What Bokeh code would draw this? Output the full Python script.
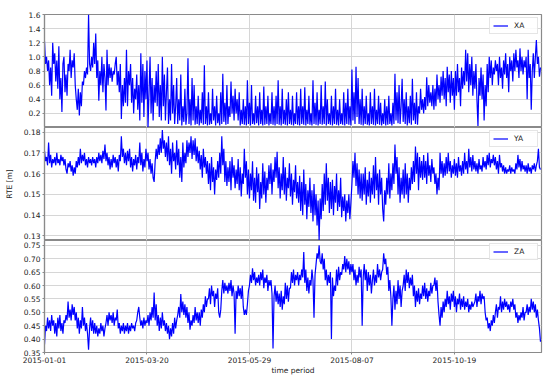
import numpy as np
from bokeh.plotting import figure
from bokeh.layouts import column
from bokeh.models import FixedTicker, PrintfTickFormatter, Range1d
from bokeh.embed import file_html
from bokeh.resources import INLINE

# ---- data (sample index: 100 samples per date tick)
DATE_LABELS = ["2015-01-01", "2015-03-20", "2015-05-29", "2015-08-07", "2015-10-19"]
DATE_TICKS = [0, 100, 200, 300, 400]
X_END = 485

XA = [1.22, 0.9, 1.0, 0.8, 0.95, 0.6, 0.85, 0.45, 1.2, 0.9,
      1.05, 0.65, 0.95, 0.55, 1.15, 0.4, 0.7, 0.22, 0.9, 1.0,
      0.5, 0.75, 0.45, 0.9, 0.8, 1.1, 0.7, 0.95, 0.85, 1.05,
      0.6, 0.4, 0.25, 0.55, 0.17, 0.5, 0.3, 0.65, 0.6, 0.8,
      0.7, 0.85, 0.75, 1.6, 0.9, 0.8, 1.0, 0.85, 1.2, 0.9,
      1.33, 0.7, 0.95, 0.38, 0.8, 0.6, 1.0, 0.5, 0.9, 0.7,
      0.24, 1.1, 0.6, 0.9, 0.7, 0.85, 0.65, 0.8, 0.75, 0.9,
      1.0, 0.6, 0.8, 0.5, 0.9, 0.12, 0.6, 0.3, 0.7, 0.35,
      1.1, 0.3, 0.8, 0.6, 0.9, 0.35, 0.7, 0.2, 0.55, 0.4,
      0.75, 0.25, 0.6, 0.1, 1.05, 0.35, 0.9, 0.15, 0.8, 0.4,
      0.95, 0.0, 0.5, 1.0, 0.2, 0.7, 0.1, 0.6, 0.35, 0.8,
      0.3, 0.9, 0.15, 0.6, 0.1, 1.0, 0.3, 0.75, 0.1, 0.5,
      0.85, 0.05, 0.4, 0.1, 0.9, 0.2, 0.6, 0.05, 0.3, 0.7,
      0.05, 0.4, 0.1, 0.75, 0.03, 0.3, 0.08, 0.55, 0.04, 0.2,
      0.98, 0.05, 0.4, 0.03, 0.7, 0.1, 0.6, 0.04, 0.3, 0.05,
      0.45, 0.03, 0.25, 0.06, 0.5, 0.04, 0.88, 0.05, 0.3, 0.03,
      0.5, 0.04, 0.2, 0.05, 0.55, 0.1, 0.3, 0.03, 0.45, 0.06,
      0.2, 0.03, 0.5, 0.05, 0.76, 0.08, 0.35, 0.04, 0.6, 0.05,
      0.3, 0.15, 0.65, 0.2, 0.45, 0.1, 0.55, 0.2, 0.4, 0.1,
      0.5, 0.03, 0.25, 0.05, 0.4, 0.04, 0.3, 0.03, 0.67, 0.05,
      0.35, 0.03, 0.6, 0.05, 0.2, 0.04, 0.45, 0.06, 0.3, 0.03,
      0.5, 0.05, 0.25, 0.03, 0.58, 0.04, 0.3, 0.05, 0.45, 0.03,
      0.2, 0.05, 0.5, 0.04, 0.3, 0.03, 0.45, 0.05, 0.67, 0.04,
      0.3, 0.03, 0.55, 0.05, 0.25, 0.04, 0.4, 0.03, 0.5, 0.05,
      0.25, 0.04, 0.45, 0.03, 0.2, 0.05, 0.5, 0.04, 0.3, 0.03,
      0.55, 0.05, 0.3, 0.04, 0.57, 0.03, 0.25, 0.05, 0.45, 0.04,
      0.2, 0.03, 0.67, 0.05, 0.35, 0.04, 0.5, 0.03, 0.25, 0.05,
      0.6, 0.04, 0.3, 0.05, 0.65, 0.03, 0.4, 0.05, 0.2, 0.04,
      0.45, 0.03, 0.3, 0.05, 0.55, 0.04, 0.25, 0.03, 0.4, 0.05,
      0.2, 0.04, 0.5, 0.03, 0.35, 0.05, 0.55, 0.04, 0.3, 0.03,
      0.82, 0.1, 0.5, 0.05, 0.86, 0.15, 0.7, 0.05, 0.4, 0.04,
      0.55, 0.03, 0.3, 0.05, 0.45, 0.04, 0.2, 0.03, 0.5, 0.05,
      0.3, 0.04, 0.55, 0.03, 0.25, 0.05, 0.45, 0.04, 0.35, 0.03,
      0.2, 0.05, 0.4, 0.03, 0.3, 0.04, 0.45, 0.05, 0.2, 0.03,
      0.35, 0.05, 0.76, 0.1, 0.5, 0.06, 0.6, 0.05, 0.3, 0.69,
      0.08, 0.4, 0.05, 0.5, 0.03, 0.3, 0.06, 0.45, 0.04, 0.69,
      0.1, 0.35, 0.05, 0.5, 0.04, 0.3, 0.2, 0.55, 0.25, 0.4,
      0.2, 0.43, 0.25, 0.71, 0.3, 0.6, 0.35, 0.5, 0.3, 0.6,
      0.25, 0.55, 0.3, 0.75, 0.4, 0.6, 0.35, 0.72, 0.45, 0.8,
      0.4, 0.7, 0.3, 0.86, 0.5, 0.75, 0.35, 0.8, 0.45, 0.7,
      0.25, 0.8, 0.45, 0.9, 0.5, 0.7, 0.3, 0.85, 0.55, 0.8,
      0.6, 1.1, 0.65, 1.05, 0.5, 0.9, 0.6, 1.0, 0.45, 0.8,
      0.55, 0.9, 0.4, 0.02, 0.7, 0.45, 0.85, 0.4, 0.75, 0.1,
      0.6, 0.3, 0.9, 0.5, 1.0, 0.7, 0.95, 0.6, 0.85, 0.75,
      0.95, 0.8, 0.9, 0.6, 1.0, 0.7, 0.85, 0.55, 0.95, 0.75,
      1.05, 0.7, 0.9, 0.5, 1.0, 0.8, 0.95, 0.65, 1.05, 0.8,
      1.1, 0.85, 0.95, 0.7, 1.12, 0.8, 1.0, 0.75, 0.95, 0.85,
      1.0, 0.4, 1.1, 0.7, 0.9, 0.25, 0.8, 1.05, 0.7, 1.0,
      1.24, 0.9, 1.0, 0.72, 0.85]

YA = [0.171, 0.166, 0.168, 0.164, 0.175, 0.165, 0.169, 0.163, 0.167, 0.165,
      0.168, 0.164, 0.170, 0.165, 0.167, 0.164, 0.169, 0.166, 0.168, 0.164,
      0.167, 0.162, 0.160, 0.165, 0.163, 0.166, 0.161, 0.164, 0.159, 0.163,
      0.160, 0.166, 0.163, 0.168, 0.164, 0.172, 0.165, 0.169, 0.166, 0.170,
      0.164, 0.167, 0.163, 0.168, 0.165, 0.167, 0.164, 0.168, 0.165, 0.167,
      0.163, 0.168, 0.165, 0.170, 0.166, 0.169, 0.165, 0.171, 0.167, 0.174,
      0.166, 0.170, 0.164, 0.168, 0.162, 0.167, 0.163, 0.169, 0.165, 0.168,
      0.163, 0.167, 0.161, 0.169, 0.166, 0.178, 0.168, 0.172, 0.165, 0.170,
      0.164, 0.171, 0.166, 0.172, 0.163, 0.168, 0.161, 0.167, 0.164, 0.169,
      0.162, 0.168, 0.165, 0.175, 0.164, 0.170, 0.161, 0.167, 0.163, 0.172,
      0.166, 0.170, 0.162, 0.167, 0.160, 0.165, 0.158, 0.156, 0.166, 0.172,
      0.167, 0.174, 0.169, 0.177, 0.170, 0.181, 0.172, 0.176, 0.168, 0.175,
      0.166, 0.178, 0.164, 0.172, 0.160, 0.175, 0.166, 0.170, 0.162, 0.176,
      0.164, 0.172, 0.158, 0.168, 0.156, 0.175, 0.163, 0.170, 0.165, 0.176,
      0.168, 0.175, 0.170, 0.178, 0.167, 0.176, 0.169, 0.177, 0.166, 0.173,
      0.165, 0.171, 0.162, 0.169, 0.158, 0.172, 0.163, 0.168, 0.160, 0.166,
      0.155, 0.165, 0.152, 0.168, 0.156, 0.163, 0.150, 0.162, 0.157, 0.166,
      0.158, 0.170, 0.160, 0.178, 0.164, 0.172, 0.156, 0.166, 0.154, 0.163,
      0.156, 0.166, 0.152, 0.168, 0.158, 0.164, 0.153, 0.162, 0.155, 0.167,
      0.152, 0.163, 0.149, 0.160, 0.155, 0.172, 0.158, 0.166, 0.150, 0.162,
      0.148, 0.160, 0.152, 0.166, 0.147, 0.158, 0.146, 0.163, 0.151, 0.160,
      0.143, 0.156, 0.148, 0.165, 0.150, 0.161, 0.146, 0.158, 0.152, 0.164,
      0.155, 0.165, 0.150, 0.162, 0.156, 0.168, 0.158, 0.1705, 0.153, 0.163,
      0.148, 0.160, 0.152, 0.168, 0.150, 0.163, 0.147, 0.158, 0.153, 0.165,
      0.149, 0.160, 0.145, 0.157, 0.151, 0.164, 0.148, 0.156, 0.146, 0.159,
      0.142, 0.156, 0.140, 0.162, 0.145, 0.155, 0.138, 0.152, 0.144, 0.158,
      0.141, 0.152, 0.137, 0.155, 0.140, 0.150, 0.135, 0.147, 0.128, 0.148,
      0.138, 0.155, 0.142, 0.160, 0.145, 0.165, 0.147, 0.158, 0.141, 0.156,
      0.143, 0.157, 0.140, 0.154, 0.146, 0.160, 0.142, 0.152, 0.144, 0.158,
      0.139, 0.149, 0.142, 0.150, 0.137, 0.147, 0.141, 0.150, 0.138, 0.146,
      0.155, 0.166, 0.158, 0.170, 0.154, 0.165, 0.150, 0.162, 0.148, 0.160,
      0.147, 0.160, 0.150, 0.163, 0.145, 0.157, 0.149, 0.161, 0.146, 0.158,
      0.150, 0.164, 0.148, 0.168, 0.152, 0.160, 0.145, 0.162, 0.150, 0.158,
      0.143, 0.137, 0.152, 0.145, 0.158, 0.150, 0.165, 0.148, 0.160, 0.152,
      0.165, 0.155, 0.174, 0.160, 0.168, 0.150, 0.163, 0.146, 0.158, 0.150,
      0.162, 0.148, 0.165, 0.150, 0.160, 0.146, 0.158, 0.152, 0.163, 0.155,
      0.166, 0.156, 0.173, 0.160, 0.170, 0.152, 0.168, 0.158, 0.166, 0.157,
      0.169, 0.158, 0.166, 0.155, 0.170, 0.159, 0.164, 0.156, 0.167, 0.160,
      0.163, 0.155, 0.160, 0.150, 0.158, 0.152, 0.170, 0.160, 0.166, 0.158,
      0.165, 0.159, 0.168, 0.160, 0.170, 0.161, 0.166, 0.158, 0.164, 0.160,
      0.167, 0.159, 0.165, 0.158, 0.168, 0.161, 0.164, 0.159, 0.166, 0.160,
      0.170, 0.162, 0.166, 0.160, 0.172, 0.163, 0.168, 0.161, 0.169, 0.162,
      0.166, 0.161, 0.165, 0.160, 0.167, 0.162, 0.164, 0.161, 0.168, 0.163,
      0.166, 0.162, 0.169, 0.164, 0.170, 0.163, 0.167, 0.165, 0.169, 0.164,
      0.168, 0.162, 0.166, 0.160, 0.169, 0.163, 0.165, 0.161, 0.164, 0.160,
      0.163, 0.160, 0.162, 0.161, 0.164, 0.160, 0.163, 0.161, 0.162, 0.160,
      0.165, 0.162, 0.169, 0.163, 0.167, 0.161, 0.166, 0.162, 0.164, 0.161,
      0.164, 0.160, 0.165, 0.161, 0.163, 0.160, 0.164, 0.162, 0.165, 0.161,
      0.164, 0.166, 0.172, 0.163, 0.162]

ZA = [0.38, 0.45, 0.43, 0.48, 0.44, 0.47, 0.43, 0.49, 0.45, 0.47,
      0.42, 0.46, 0.41, 0.48, 0.44, 0.49, 0.43, 0.46, 0.42, 0.47,
      0.46, 0.49, 0.47, 0.54, 0.48, 0.51, 0.47, 0.53, 0.49, 0.52,
      0.47, 0.50, 0.44, 0.48, 0.42, 0.47, 0.44, 0.52, 0.45, 0.48,
      0.43, 0.46, 0.42, 0.36, 0.44, 0.48, 0.43, 0.47, 0.42, 0.46,
      0.42, 0.45, 0.41, 0.44, 0.42, 0.46, 0.43, 0.45, 0.41, 0.44,
      0.46, 0.49, 0.45, 0.50, 0.47, 0.49, 0.46, 0.50, 0.45, 0.48,
      0.47, 0.51, 0.44, 0.46, 0.42, 0.45, 0.43, 0.46, 0.42, 0.45,
      0.43, 0.46, 0.42, 0.45, 0.43, 0.46, 0.44, 0.45, 0.43, 0.46,
      0.47, 0.50, 0.52, 0.48, 0.45, 0.47, 0.44, 0.48, 0.45, 0.47,
      0.46, 0.49, 0.45, 0.50, 0.47, 0.52, 0.48, 0.574, 0.47, 0.53,
      0.45, 0.49, 0.43, 0.48, 0.44, 0.50, 0.45, 0.47, 0.43, 0.46,
      0.42, 0.45, 0.40, 0.44, 0.41, 0.46, 0.42, 0.48, 0.44, 0.47,
      0.49, 0.52, 0.48, 0.568, 0.50, 0.54, 0.49, 0.53, 0.48, 0.52,
      0.46, 0.50, 0.435, 0.47, 0.45, 0.49, 0.46, 0.52, 0.47, 0.50,
      0.46, 0.50, 0.45, 0.51, 0.48, 0.53, 0.50, 0.56, 0.52, 0.55,
      0.55, 0.59, 0.53, 0.60, 0.56, 0.58, 0.52, 0.57, 0.55, 0.59,
      0.50, 0.48, 0.51, 0.58, 0.62, 0.57, 0.61, 0.58, 0.60, 0.57,
      0.61, 0.58, 0.62, 0.56, 0.60, 0.57, 0.42, 0.58, 0.55, 0.60,
      0.56, 0.59, 0.55, 0.60, 0.52, 0.49, 0.51, 0.49, 0.53, 0.58,
      0.60, 0.64, 0.61, 0.664, 0.62, 0.65, 0.60, 0.63, 0.61, 0.64,
      0.60, 0.65, 0.62, 0.66, 0.59, 0.63, 0.61, 0.64, 0.58, 0.62,
      0.60, 0.62, 0.57, 0.365, 0.56, 0.60, 0.54, 0.58, 0.53, 0.57,
      0.52, 0.58, 0.51, 0.56, 0.53, 0.61, 0.55, 0.60, 0.54, 0.59,
      0.59, 0.65, 0.61, 0.66, 0.60, 0.64, 0.62, 0.65, 0.60, 0.64,
      0.62, 0.66, 0.63, 0.725, 0.61, 0.66, 0.58, 0.63, 0.57, 0.62,
      0.60, 0.66, 0.62, 0.48, 0.64, 0.68, 0.72, 0.70, 0.75, 0.69,
      0.68, 0.72, 0.66, 0.70, 0.62, 0.66, 0.60, 0.64, 0.61, 0.65,
      0.40, 0.63, 0.56, 0.60, 0.58, 0.66, 0.60, 0.67, 0.62, 0.65,
      0.64, 0.68, 0.66, 0.71, 0.65, 0.70, 0.66, 0.69, 0.64, 0.68,
      0.65, 0.68, 0.62, 0.66, 0.60, 0.64, 0.61, 0.67, 0.63, 0.66,
      0.45, 0.63, 0.68, 0.62, 0.66, 0.58, 0.65, 0.60, 0.64, 0.57,
      0.62, 0.66, 0.60, 0.64, 0.61, 0.68, 0.63, 0.66, 0.62, 0.65,
      0.66, 0.72, 0.68, 0.70, 0.64, 0.67, 0.58, 0.62, 0.56, 0.45,
      0.55, 0.60, 0.51, 0.58, 0.53, 0.62, 0.55, 0.60, 0.52, 0.58,
      0.60, 0.64, 0.58, 0.66, 0.61, 0.65, 0.59, 0.63, 0.60, 0.64,
      0.56, 0.60, 0.52, 0.58, 0.54, 0.59, 0.53, 0.57, 0.55, 0.60,
      0.56, 0.61, 0.55, 0.59, 0.54, 0.58, 0.56, 0.61, 0.57, 0.60,
      0.60, 0.63, 0.58, 0.62, 0.54, 0.49, 0.45, 0.52, 0.48, 0.54,
      0.50, 0.55, 0.52, 0.58, 0.53, 0.56, 0.51, 0.57, 0.54, 0.58,
      0.52, 0.56, 0.50, 0.55, 0.53, 0.57, 0.51, 0.55, 0.52, 0.56,
      0.51, 0.54, 0.52, 0.55, 0.50, 0.53, 0.51, 0.54, 0.52, 0.53,
      0.54, 0.57, 0.52, 0.56, 0.54, 0.58, 0.53, 0.57, 0.55, 0.56,
      0.50, 0.47, 0.48, 0.44, 0.46, 0.43, 0.47, 0.45, 0.49, 0.46,
      0.50, 0.53, 0.48, 0.52, 0.51, 0.56, 0.50, 0.54, 0.51, 0.55,
      0.52, 0.54, 0.51, 0.53, 0.50, 0.54, 0.52, 0.55, 0.51, 0.53,
      0.48, 0.50, 0.46, 0.49, 0.47, 0.50, 0.48, 0.52, 0.47, 0.50,
      0.50, 0.53, 0.49, 0.52, 0.50, 0.55, 0.51, 0.54, 0.50, 0.53,
      0.48, 0.51, 0.47, 0.44, 0.39]

XA_YTICKS = [0.2, 0.4, 0.6, 0.8, 1.0, 1.2, 1.4, 1.6]
YA_YTICKS = [0.13, 0.14, 0.15, 0.16, 0.17, 0.18]
ZA_YTICKS = [0.35, 0.40, 0.45, 0.50, 0.55, 0.60, 0.65, 0.70, 0.75]

FONT = "DejaVu Sans"
TXT = "#222222"
SPINE = "#8a8a8a"
GRID = "#d6d6d6"


def panel(values, name, y0, y1, yticks, fmt, height, top, bottom, show_x, ylabel=None):
    p = figure(width=550, height=height, output_backend="svg", toolbar_location=None,
               x_range=Range1d(0, X_END), y_range=Range1d(y0, y1),
               min_border_left=44, min_border_right=9,
               min_border_top=top, min_border_bottom=bottom)
    x = np.arange(len(values))
    p.line(x, values, line_color="#0000ff", line_width=1.2, legend_label=name)

    p.outline_line_color = SPINE
    p.outline_line_width = 1.2
    p.background_fill_color = "white"
    p.border_fill_color = "white"

    p.xaxis.ticker = FixedTicker(ticks=DATE_TICKS)
    p.xaxis.major_label_overrides = {t: l for t, l in zip(DATE_TICKS, DATE_LABELS)}
    p.yaxis.ticker = FixedTicker(ticks=yticks)
    p.yaxis.formatter = PrintfTickFormatter(format=fmt)

    for ax in (p.xaxis[0], p.yaxis[0]):
        ax.axis_line_color = SPINE
        ax.axis_line_width = 1.2
        ax.major_tick_line_color = SPINE
        ax.major_tick_in = 0
        ax.major_tick_out = 2
        ax.minor_tick_line_color = None
        ax.major_label_text_font = FONT
        ax.major_label_text_font_size = "7.5px"
        ax.major_label_text_color = TXT
        ax.major_label_standoff = 2
        ax.axis_label_text_font = FONT
        ax.axis_label_text_font_size = "7.5px"
        ax.axis_label_text_font_style = "normal"
        ax.axis_label_text_color = TXT

    if not show_x:
        p.xaxis.visible = False
    else:
        p.xaxis.axis_label = "time period"
        p.xaxis.axis_label_standoff = 0
        p.xaxis.major_label_standoff = 2

    if ylabel:
        p.yaxis.axis_label = ylabel
        p.yaxis.axis_label_standoff = 7

    p.xgrid.grid_line_color = GRID
    p.ygrid.grid_line_color = GRID
    p.xgrid.grid_line_width = 1
    p.ygrid.grid_line_width = 1

    lg = p.legend[0]
    lg.location = "top_right"
    lg.margin = 3
    lg.padding = 3
    lg.spacing = 0
    lg.label_text_font = FONT
    lg.label_text_font_size = "7.5px"
    lg.label_text_color = TXT
    lg.glyph_width = 15
    lg.glyph_height = 9
    lg.label_height = 9
    lg.label_standoff = 6
    lg.border_line_color = "#cccccc"
    lg.background_fill_alpha = 0.85
    return p


p1 = panel(XA, "XA", 0.0, 1.6, XA_YTICKS, "%.1f", 127, 14, 0, False)
p2 = panel(YA, "YA", 0.1278, 0.1822, YA_YTICKS, "%.2f", 113, 0, 0, False, ylabel="RTE [m]")
p3 = panel(ZA, "ZA", 0.35, 0.768, ZA_YTICKS, "%.2f", 137, 0, 24, True)

layout = column(p1, p2, p3, spacing=0)

with open("out.html", "w") as f:
    f.write(file_html(layout, INLINE))
